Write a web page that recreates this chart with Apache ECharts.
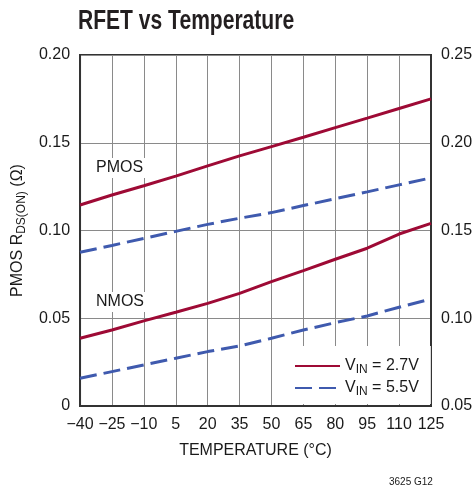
<!DOCTYPE html>
<html>
<head>
<meta charset="utf-8">
<script src="https://cdn.jsdelivr.net/npm/echarts@6/dist/echarts.min.js"></script>
<style>
html,body{margin:0;padding:0;background:#fff;}
#c{width:476px;height:490px;}
</style>
</head>
<body>
<div id="c"></div>
<script>
var temperatures = ['-40','-25','-10','5','20','35','50','65','80','95','110','125'];
var pmos27 = [0.1145,0.1202,0.1255,0.1310,0.1368,0.1425,0.1478,0.1531,0.1586,0.1640,0.1695,0.1750];
var pmos55 = [0.0876,0.0915,0.0955,0.0995,0.1035,0.1070,0.1102,0.1142,0.1181,0.1220,0.1260,0.1300];
var nmos27 = [0.0886,0.0933,0.0985,0.1034,0.1085,0.1142,0.1209,0.1271,0.1336,0.1399,0.1480,0.1541];
var nmos55 = [0.0658,0.0696,0.0734,0.0772,0.0810,0.0842,0.0886,0.0933,0.0975,0.1013,0.1063,0.1110];
var leftTicks = {min:0, max:0.20, interval:0.05};
var rightTicks = {min:0.05, max:0.25, interval:0.05};

var RED = '#9E0A35', BLUE = '#3F5AAE';
var FONT = '"Liberation Sans", Arial, sans-serif';
var NAME27 = 'V{sub|IN} = 2.7V';
var NAME55 = 'V{sub|IN} = 5.5V';
var SUB = {fontFamily: FONT, fontSize: 12, color: '#1a1a1a', verticalAlign: 'bottom', lineHeight: 14, padding: [6,0,0,0]};

var chart = echarts.init(document.getElementById('c'), null, {renderer:'canvas'});
var labelStyle = {fontFamily: FONT, fontSize: 16, color: '#1a1a1a'};
chart.setOption({
  animation: false,
  backgroundColor: '#fff',
  grid: {left: 79, right: 45, top: 55, bottom: 84, show: true, borderColor: '#333', borderWidth: 2, backgroundColor: 'transparent'},
  legend: {
    orient: 'vertical',
    left: 289, top: 346,
    padding: [10, 12, 6, 5],
    backgroundColor: '#fff',
    itemWidth: 45, itemHeight: 14, itemGap: 2,
    itemStyle: {color: 'rgba(0,0,0,0)', borderColor: 'rgba(0,0,0,0)', borderWidth: 0, opacity: 0},
    data: [NAME27, NAME55],
    textStyle: {
      fontFamily: FONT, fontSize: 16, color: '#1a1a1a', lineHeight: 20,
      rich: {sub: SUB}
    }
  },
  xAxis: {
    type: 'category',
    data: temperatures,
    boundaryGap: false,
    name: 'TEMPERATURE (°C)',
    nameLocation: 'middle',
    nameGap: 37,
    nameTextStyle: labelStyle,
    axisLine: {lineStyle: {color: '#333', width: 2}},
    axisTick: {show: false},
    axisLabel: Object.assign({margin: 11, interval: 0, formatter: function(v){return v.replace('-', '\u2212');}}, labelStyle),
    splitLine: {show: true, lineStyle: {color: '#8a8a8a', width: 1}}
  },
  yAxis: [{
    type: 'value',
    min: leftTicks.min, max: leftTicks.max, interval: leftTicks.interval,
    name: 'PMOS R{sub|DS(ON)} (Ω)',
    nameLocation: 'middle',
    nameGap: 50,
    nameTextStyle: Object.assign({lineHeight: 20, rich: {sub: SUB}}, labelStyle),
    axisLine: {show: true, lineStyle: {color: '#333', width: 2}},
    axisTick: {show: false},
    axisLabel: Object.assign({margin: 10, padding: [4,0,0,0], formatter: function(v){return v === 0 ? '0' : v.toFixed(2);}}, labelStyle),
    splitLine: {show: true, lineStyle: {color: '#8a8a8a', width: 1}}
  }, {
    type: 'value',
    position: 'right',
    min: rightTicks.min, max: rightTicks.max, interval: rightTicks.interval,
    axisLine: {show: true, lineStyle: {color: '#333', width: 2}},
    axisTick: {show: false},
    axisLabel: Object.assign({margin: 10, padding: [3,0,0,0], formatter: function(v){return v.toFixed(2);}}, labelStyle),
    splitLine: {show: false}
  }],
  series: [
    {name: NAME27, type: 'line', yAxisIndex: 0, data: pmos27, symbol: 'none', lineStyle: {color: RED, width: 3}, itemStyle: {color: RED}, z: 3},
    {name: NAME55, type: 'line', yAxisIndex: 0, data: pmos55, symbol: 'none', lineStyle: {color: BLUE, width: 3, type: [17, 7]}, itemStyle: {color: BLUE}, z: 3},
    {name: NAME27, type: 'line', yAxisIndex: 1, data: nmos27, symbol: 'none', lineStyle: {color: RED, width: 3}, itemStyle: {color: RED}, z: 3},
    {name: NAME55, type: 'line', yAxisIndex: 1, data: nmos55, symbol: 'none', lineStyle: {color: BLUE, width: 3, type: [17, 7]}, itemStyle: {color: BLUE}, z: 3}
  ],
  graphic: [
    {type: 'text', x: 78, y: 8, scaleX: 0.78, z: 50, style: {text: 'RFET vs Temperature', x: 0, y: 0, fontFamily: FONT, fontWeight: 'bold', fontSize: 27, fill: '#231f20'}},
    {type: 'text', left: 93, top: 158, z: 50, style: {text: 'PMOS', fontFamily: FONT, fontSize: 16, fill: '#1a1a1a', backgroundColor: '#fff', padding: [2, 3]}},
    {type: 'text', left: 93, top: 292, z: 50, style: {text: 'NMOS', fontFamily: FONT, fontSize: 16, fill: '#1a1a1a', backgroundColor: '#fff', padding: [2, 3]}},
    {type: 'text', left: 389, top: 477, z: 50, style: {text: '3625 G12', fontFamily: FONT, fontSize: 10, fill: '#1a1a1a'}}
  ]
});
</script>
</body>
</html>
